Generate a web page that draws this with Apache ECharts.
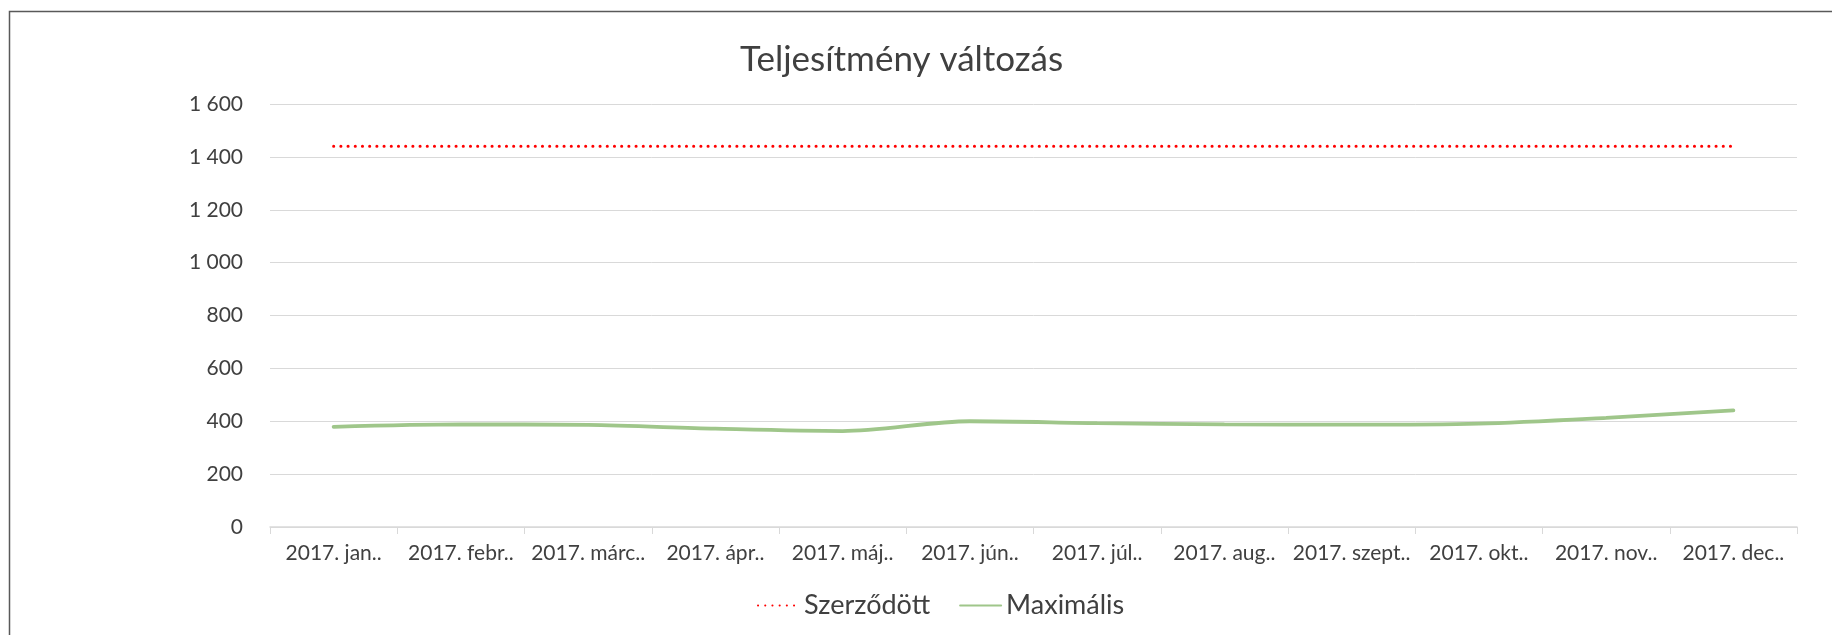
<!DOCTYPE html>
<html>
<head>
<meta charset="utf-8">
<script src="https://cdn.jsdelivr.net/npm/echarts@6/dist/echarts.min.js"></script>
<style>
  html, body { margin: 0; padding: 0; background: #fff; }
  #chart { width: 1832px; height: 635px; }
</style>
</head>
<body>
<div id="chart"></div>
<script>
const months = ["2017. jan..", "2017. febr..", "2017. márc..", "2017. ápr..", "2017. máj..", "2017. jún..",
  "2017. júl..", "2017. aug..", "2017. szept..", "2017. okt..", "2017. nov..", "2017. dec.."];
const szerzodott = [1440, 1440, 1440, 1440, 1440, 1440, 1440, 1440, 1440, 1440, 1440, 1440];
const maximalis = [379, 388, 386, 372, 363, 400, 393, 388, 387, 391, 413, 441];
const yTicks = { min: 0, max: 1600, interval: 200 };

const FONT = "Lato, 'Open Sans', sans-serif";
const TXT = "#404040";

// szóközös ezres tagolás: 1600 -> "1 600"
const fmtNum = (v) => String(v).replace(/\B(?=(\d{3})+(?!\d))/g, " ");

const chart = echarts.init(document.getElementById("chart"));
chart.setOption({
  backgroundColor: "#fff",
  animation: false,
  textStyle: { fontFamily: FONT },
  title: {
    text: "Teljesítmény változás",
    left: 735,
    top: 37,
    textStyle: { fontFamily: FONT, fontSize: 35, fontWeight: "normal", color: TXT }
  },
  legend: {
    top: 587,
    left: 752,
    itemWidth: 41,
    itemHeight: 14,
    itemGap: 29,
    itemStyle: { opacity: 0 },
    textStyle: { fontFamily: FONT, fontSize: 27, color: TXT },
    data: ["Szerződött", "Maximális"]
  },
  grid: { left: 270, right: 35, top: 104, bottom: 108 },
  xAxis: {
    type: "category",
    data: months,
    boundaryGap: true,
    axisLine: { lineStyle: { color: "#d9d9d9", width: 1.5 } },
    axisTick: { show: true, length: 7, lineStyle: { color: "#d9d9d9" } },
    axisLabel: { color: TXT, fontSize: 21, margin: 16, interval: 0 }
  },
  yAxis: {
    type: "value",
    ...yTicks,
    axisLine: { show: false },
    axisTick: { show: false },
    splitLine: { lineStyle: { color: "#d9d9d9", width: 1 } },
    axisLabel: { color: TXT, fontSize: 21, margin: 27, formatter: fmtNum }
  },
  series: [
    {
      name: "Szerződött",
      type: "line",
      data: szerzodott,
      symbol: "none",
      lineStyle: { color: "#ff0000", width: 3, type: [0.1, 7.1], cap: "round" },
      itemStyle: { color: "#ff0000" }
    },
    {
      name: "Maximális",
      type: "line",
      data: maximalis,
      symbol: "none",
      smooth: 0.3,
      lineStyle: { color: "#9fc68a", width: 3.8, cap: "round" },
      itemStyle: { color: "#9fc68a" }
    }
  ],
  graphic: [{
    type: "rect",
    silent: true,
    shape: { x: 9.5, y: 11.5, width: 2000, height: 1000 },
    style: { fill: "none", stroke: "#595959", lineWidth: 1.5 }
  }]
});
</script>
</body>
</html>
